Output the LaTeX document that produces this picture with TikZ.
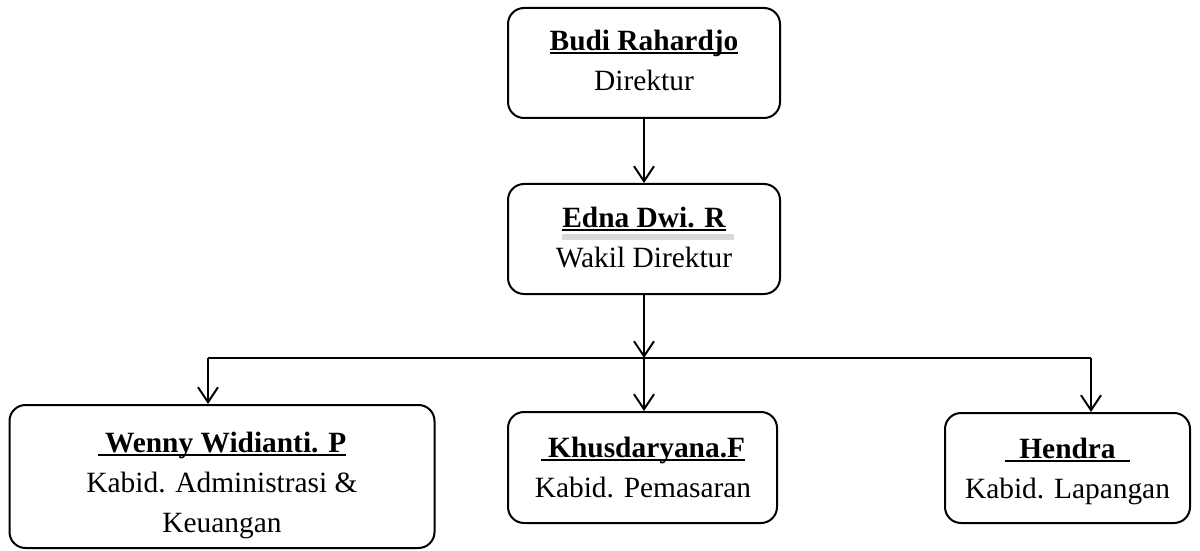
\documentclass[tikz,border=0pt]{standalone}
\usepackage{fontspec}
\setmainfont{Liberation Serif}
\usetikzlibrary{arrows.meta}
\newcommand\myul[1]{\setbox0=\hbox{#1}\rlap{\rule[-2pt]{\wd0}{1pt}}\box0}
\newcommand\firstln{\rule{0pt}{10.5pt}}
\tikzset{
  box/.style={draw, line width=1pt, rounded corners=8pt, inner sep=0pt},
  txt/.style={align=center, inner sep=0pt, anchor=north,
    font=\fontsize{14.7}{20}\selectfont},
  arr/.style={line width=1pt, -{Straight Barb[length=7.5pt,width=10pt,line width=1pt]}},
  link/.style={line width=1pt}
}
\begin{document}
\begin{tikzpicture}[x=0.5pt,y=-0.5pt]
\useasboundingbox (0,0) rectangle (1200,551);
% boxes
\node[box, minimum width=136pt, minimum height=55pt] (dir) at (644,63) {};
\node[box, minimum width=136pt, minimum height=55pt] (wakil) at (644,239) {};
\node[box, minimum width=212.5pt, minimum height=71.5pt] (adm) at (222,476.5) {};
\node[box, minimum width=134.5pt, minimum height=55.5pt] (pem) at (642.5,467.5) {};
\node[box, minimum width=122.5pt, minimum height=55pt] (lap) at (1067.5,468) {};
% shadow under Edna
\fill[gray!30] (562,234) rectangle (734,240);
% texts
\node[txt] (dirT) at (644,29) {\firstln\textbf{\myul{Budi Rahardjo}}\\Direktur};
\node[txt] (wakilT) at (644,206) {\firstln\textbf{\myul{Edna Dwi. R}}\\Wakil Direktur};
\node[txt] (admT) at (222,431) {\firstln\textbf{\myul{\ Wenny Widianti. P}}\\Kabid. Administrasi \&\\Keuangan};
\node[txt] (pemT) at (643,436) {\firstln\textbf{\myul{\ Khusdaryana.F}}\\Kabid. Pemasaran};
\node[txt] (lapT) at (1067.5,437) {\firstln\textbf{\myul{\ \ Hendra\ \ }}\\Kabid. Lapangan};
% connectors
\coordinate (jL) at (208,358);
\coordinate (jM) at (644,358);
\coordinate (jR) at (1091,358);
\draw[arr] (dir.south) -- (wakil.north);
\draw[arr] (wakil.south) -- (jM);
\draw[link] (jL) -- (jR);
\draw[arr] (jL) -- (jL |- adm.north);
\draw[arr] (jM) -- (jM |- pem.north);
\draw[arr] (jR) -- (jR |- lap.north);
\end{tikzpicture}
\end{document}
